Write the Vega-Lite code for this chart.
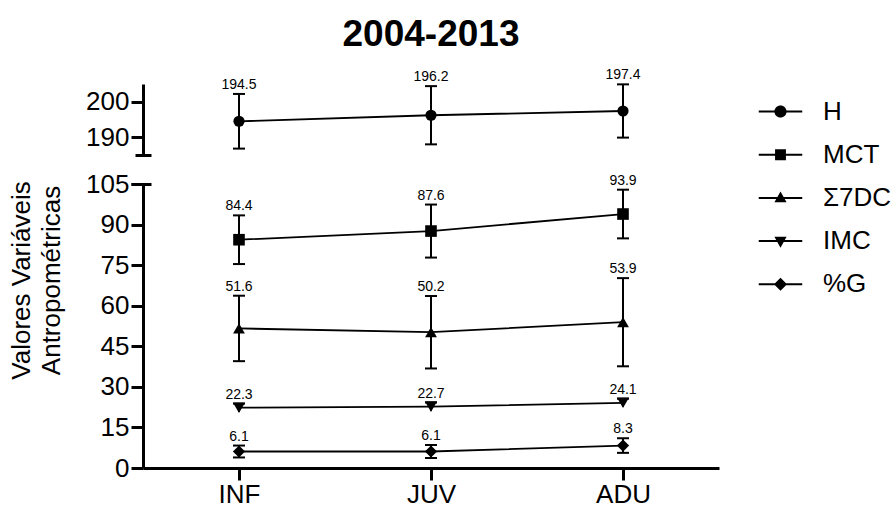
{
  "$schema": "https://vega.github.io/schema/vega-lite/v6.json",
  "autosize": {"type": "none"},
  "padding": {"left": 143, "top": 84, "right": 753, "bottom": 424},
  "background": "white",
  "title": {"text": "2004-2013", "anchor": "start", "frame": "group", "align": "center", "dx": 288, "fontSize": 37, "font": "Liberation Sans", "fontWeight": "bold", "color": "black", "offset": 14},
  "config": {
    "font": "Liberation Sans",
    "view": {"stroke": null},
    "axis": {"domainColor": "black", "domainWidth": 3, "tickColor": "black", "tickWidth": 3, "tickSize": 12, "labelColor": "black", "labelFont": "Liberation Sans", "labelFontSize": 26, "labelPadding": 2, "grid": false, "titleColor": "black"},
    "legend": {"orient": "right", "offset": 34, "padding": 5, "labelFont": "Liberation Sans", "labelFontSize": 26, "labelColor": "black", "labelOffset": 20, "rowPadding": 7.2, "symbolSize": 1892, "symbolFillColor": "black"}
  },
  "datasets": {
    "d": [
      {"g": "INF", "v": "H", "m": 194.5, "lo": 186.8, "hi": 202.2},
      {"g": "JUV", "v": "H", "m": 196.2, "lo": 188.0, "hi": 204.4},
      {"g": "ADU", "v": "H", "m": 197.4, "lo": 189.9, "hi": 204.9},
      {"g": "INF", "v": "MCT", "m": 84.4, "lo": 75.4, "hi": 93.4},
      {"g": "JUV", "v": "MCT", "m": 87.6, "lo": 77.8, "hi": 97.4},
      {"g": "ADU", "v": "MCT", "m": 93.9, "lo": 84.9, "hi": 102.9},
      {"g": "INF", "v": "Σ7DC", "m": 51.6, "lo": 39.5, "hi": 63.7},
      {"g": "JUV", "v": "Σ7DC", "m": 50.2, "lo": 36.8, "hi": 63.6},
      {"g": "ADU", "v": "Σ7DC", "m": 53.9, "lo": 37.6, "hi": 70.2},
      {"g": "INF", "v": "IMC", "m": 22.3, "lo": 20.8, "hi": 23.8},
      {"g": "JUV", "v": "IMC", "m": 22.7, "lo": 21.2, "hi": 24.2},
      {"g": "ADU", "v": "IMC", "m": 24.1, "lo": 22.6, "hi": 25.6},
      {"g": "INF", "v": "%G", "m": 6.1, "lo": 3.9, "hi": 8.3},
      {"g": "JUV", "v": "%G", "m": 6.1, "lo": 3.7, "hi": 8.5},
      {"g": "ADU", "v": "%G", "m": 8.3, "lo": 5.6, "hi": 11.0}
    ]
  },
  "spacing": 29,
  "bounds": "flush",
  "vconcat": [
    {
      "width": 576,
      "height": 71,
      "data": {"name": "d"},
      "transform": [{"filter": "datum.v === 'H'"}],
      "encoding": {
        "x": {"field": "g", "type": "nominal", "scale": {"type": "point", "domain": ["INF", "JUV", "ADU"], "padding": 0.5}, "axis": null}
      },
      "resolve": {"axis": {"y": "independent"}},
      "layer": [
        {
          "mark": {"type": "line", "color": "black", "strokeWidth": 1.8},
          "encoding": {"y": {"field": "m", "type": "quantitative", "scale": {"domain": [185, 205], "nice": false, "zero": false}, "axis": {"values": [190, 200], "title": null, "orient": "left"}}}
        },
        {
          "mark": {"type": "rule", "color": "black", "strokeWidth": 2},
          "encoding": {"y": {"field": "lo", "type": "quantitative", "axis": {"values": [185], "orient": "left", "title": null, "domain": false, "labels": false, "offset": -8, "tickSize": 16}}, "y2": {"field": "hi"}}
        },
        {
          "mark": {"type": "tick", "color": "black", "orient": "horizontal", "size": 12, "thickness": 2, "opacity": 1},
          "encoding": {"y": {"field": "lo", "type": "quantitative", "axis": null}}
        },
        {
          "mark": {"type": "tick", "color": "black", "orient": "horizontal", "size": 12, "thickness": 2, "opacity": 1},
          "encoding": {"y": {"field": "hi", "type": "quantitative", "axis": null}}
        },
        {
          "mark": {"type": "point", "shape": "circle", "filled": true, "color": "black", "opacity": 1, "size": 125},
          "encoding": {"y": {"field": "m", "type": "quantitative", "axis": null}}
        },
        {
          "mark": {"type": "text", "fontSize": 14, "baseline": "alphabetic", "dy": -5, "color": "black"},
          "encoding": {"y": {"field": "hi", "type": "quantitative", "axis": null}, "text": {"field": "m", "type": "quantitative", "format": ".1f"}}
        }
      ]
    },
    {
      "width": 576,
      "height": 284,
      "data": {"name": "d"},
      "transform": [{"filter": "datum.v !== 'H'"}],
      "encoding": {
        "x": {"field": "g", "type": "nominal", "title": null, "scale": {"type": "point", "domain": ["INF", "JUV", "ADU"], "padding": 0.5}, "axis": {"labelAngle": 0, "labelPadding": 1, "labelFontSize": 26, "title": null}}
      },
      "resolve": {"axis": {"y": "independent"}},
      "layer": [
        {
          "mark": {"type": "line", "color": "black", "strokeWidth": 1.8},
          "encoding": {
            "detail": {"field": "v", "type": "nominal"},
            "y": {"field": "m", "type": "quantitative", "scale": {"domain": [0, 105], "nice": false}, "axis": {"orient": "left", "values": [0, 15, 30, 45, 60, 75, 90, 105], "title": ["Valores Variáveis", "Antropométricas"], "titleFontSize": 26, "titleFontWeight": "normal", "titleLineHeight": 30, "titleAngle": 270, "titleAlign": "center", "titleBaseline": "bottom", "titleX": -109, "titleY": 96}}
          }
        },
        {
          "mark": {"type": "rule", "color": "black", "strokeWidth": 2},
          "encoding": {"y": {"field": "lo", "type": "quantitative", "axis": {"values": [105], "orient": "left", "title": null, "domain": false, "labels": false, "offset": -8, "tickSize": 20}}, "y2": {"field": "hi"}}
        },
        {
          "transform": [{"filter": "datum.v !== 'IMC'"}],
          "mark": {"type": "tick", "color": "black", "orient": "horizontal", "size": 12, "thickness": 2, "opacity": 1},
          "encoding": {"y": {"field": "lo", "type": "quantitative", "axis": null}}
        },
        {
          "mark": {"type": "tick", "color": "black", "orient": "horizontal", "size": 12, "thickness": 2, "opacity": 1},
          "encoding": {"y": {"field": "hi", "type": "quantitative", "axis": null}}
        },
        {
          "transform": [{"filter": "datum.v === 'MCT'"}],
          "mark": {"type": "point", "shape": "square", "filled": true, "color": "black", "opacity": 1, "size": 135},
          "encoding": {"y": {"field": "m", "type": "quantitative", "axis": null}}
        },
        {
          "transform": [{"filter": "datum.v === 'Σ7DC'"}],
          "mark": {"type": "point", "shape": "triangle-up", "filled": true, "color": "black", "opacity": 1, "size": 140},
          "encoding": {"y": {"field": "m", "type": "quantitative", "axis": null}}
        },
        {
          "transform": [{"filter": "datum.v === 'IMC'"}],
          "mark": {"type": "point", "shape": "triangle-down", "filled": true, "color": "black", "opacity": 1, "size": 150},
          "encoding": {"y": {"field": "m", "type": "quantitative", "axis": null}}
        },
        {
          "transform": [{"filter": "datum.v === '%G'"}],
          "mark": {"type": "point", "shape": "diamond", "filled": true, "color": "black", "opacity": 1, "size": 150},
          "encoding": {"y": {"field": "m", "type": "quantitative", "axis": null}}
        },
        {
          "mark": {"type": "text", "fontSize": 14, "baseline": "alphabetic", "dy": -5, "color": "black"},
          "encoding": {"y": {"field": "hi", "type": "quantitative", "axis": null}, "text": {"field": "m", "type": "quantitative", "format": ".1f"}}
        },
        {
          "transform": [{"filter": "false"}],
          "mark": {"type": "point", "filled": true, "color": "black", "opacity": 1, "size": 1892},
          "encoding": {
            "shape": {
              "field": "v", "type": "nominal",
              "scale": {
                "domain": ["H", "MCT", "Σ7DC", "IMC", "%G"],
                "range": [
                  "M-1,-0.045L1,-0.045L1,0.045L-1,0.045ZM-0.28,0A0.28,0.28,0,1,1,0.28,0A0.28,0.28,0,1,1,-0.28,0Z",
                  "M-1,-0.045L1,-0.045L1,0.045L-1,0.045ZM-0.25,-0.25L0.25,-0.25L0.25,0.25L-0.25,0.25Z",
                  "M-1,-0.045L1,-0.045L1,0.045L-1,0.045ZM0,-0.3L0.28,0.2L-0.28,0.2Z",
                  "M-1,-0.045L1,-0.045L1,0.045L-1,0.045ZM-0.28,-0.2L0.28,-0.2L0,0.3Z",
                  "M-1,-0.045L1,-0.045L1,0.045L-1,0.045ZM0,-0.3L0.3,0L0,0.3L-0.3,0Z"
                ]
              },
              "legend": {"title": null, "symbolSize": 1892}
            }
          }
        }
      ]
    }
  ]
}
